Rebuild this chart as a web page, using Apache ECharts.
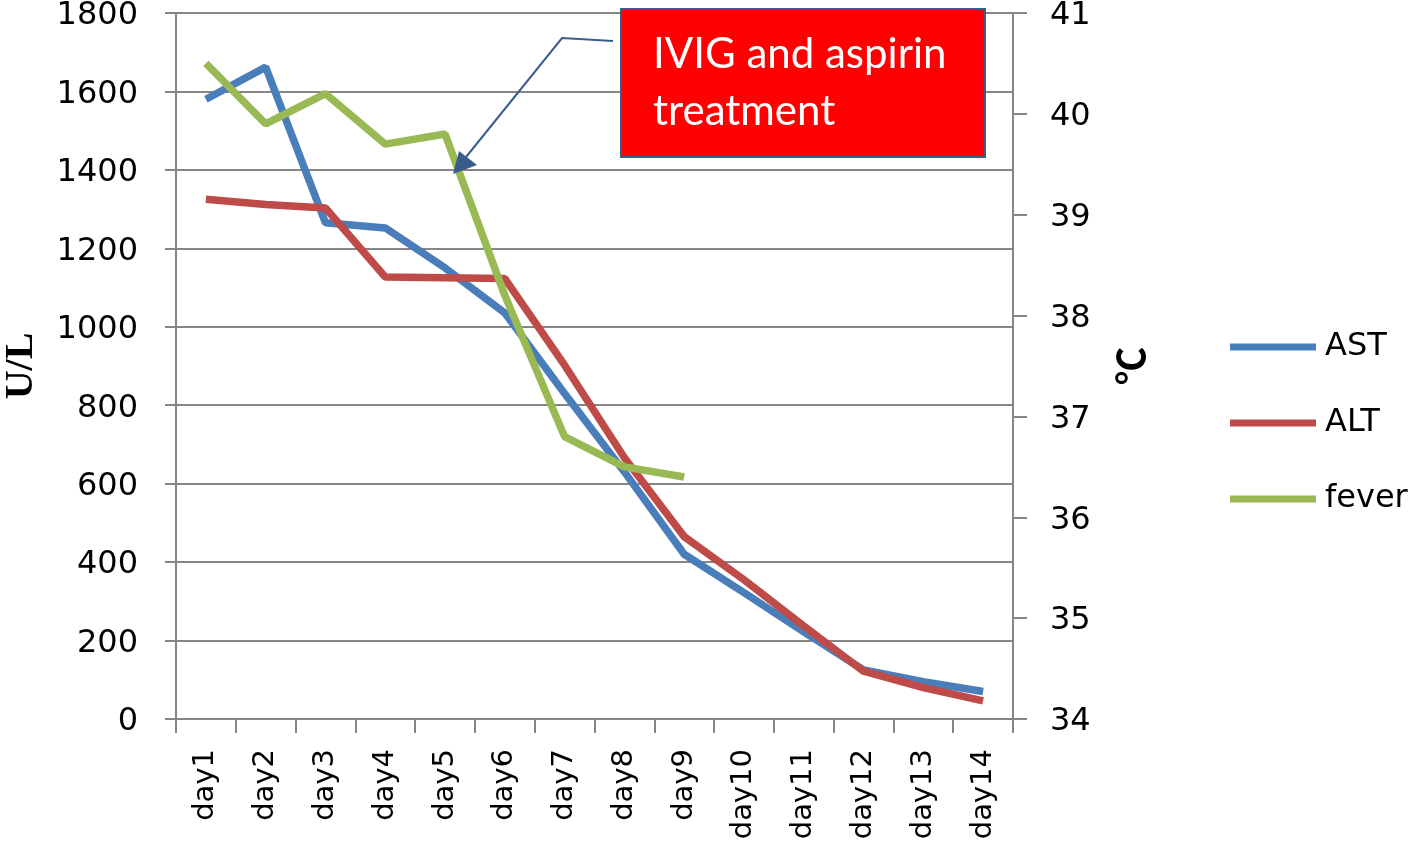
<!DOCTYPE html>
<html>
<head>
<meta charset="utf-8">
<script src="https://cdn.jsdelivr.net/npm/echarts@6/dist/echarts.min.js"></script>
<style>
html,body{margin:0;padding:0;background:#fff;}
#chart{width:1418px;height:846px;}
</style>
</head>
<body>
<div id="chart"></div>
<script>
var categories = ['day1','day2','day3','day4','day5','day6','day7','day8','day9','day10','day11','day12','day13','day14'];
var astValues = [1580, 1662, 1265, 1252, 1150, 1035, 830, 630, 420, 322, 222, 125, 95, 70];
var altValues = [1325, 1312, 1303, 1127, 1125, 1123, 902, 666, 465, 355, 237, 122, 80, 46];
var feverValues = [40.5, 39.9, 40.2, 39.7, 39.8, 38.2, 36.8, 36.5, 36.4, null, null, null, null, null];
var seriesNames = ['AST', 'ALT', 'fever'];
var annotationLines = ['IVIG and aspirin', 'treatment'];

var gray = '#868686';
var font = 'DejaVu Sans';
var tickRich = { t: { fontFamily: font, fontSize: 32, color: '#000', padding: [6, 0, 0, 0] } };
var chart = echarts.init(document.getElementById('chart'));
chart.setOption({
  animation: false,
  backgroundColor: '#fff',
  grid: { left: 176, right: 405, top: 13, bottom: 127, containLabel: false, outerBoundsMode: 'none' },
  legend: {
    orient: 'vertical', left: 1230, top: 327, padding: 0,
    icon: 'rect', itemWidth: 86, itemHeight: 7, itemGap: 36,
    data: seriesNames,
    textStyle: { fontFamily: font, fontSize: 32, lineHeight: 40, color: '#000', padding: [0,0,0,4] }
  },
  xAxis: {
    type: 'category', data: categories, boundaryGap: true,
    axisLine: { lineStyle: { color: gray, width: 2 } },
    axisTick: { show: true, length: 14, interval: 0, lineStyle: { color: gray, width: 2 } },
    axisLabel: { rotate: 90, interval: 0, fontFamily: font, fontSize: 29, color: '#000', margin: 30 },
    splitLine: { show: false }
  },
  yAxis: [
    {
      type: 'value', min: 0, max: 1800, interval: 200, position: 'left',
      axisLine: { show: true, lineStyle: { color: gray, width: 2 } },
      axisTick: { show: true, length: 11, lineStyle: { color: gray, width: 2 } },
      axisLabel: { fontFamily: font, fontSize: 32, color: '#000', margin: 38, rich: tickRich,
        formatter: function (v) { return '{t|' + v + '}'; } },
      splitLine: { show: true, lineStyle: { color: gray, width: 2 } },
      name: 'U/L', nameLocation: 'middle', nameGap: 134, nameRotate: 90,
      nameTextStyle: { fontFamily: 'Liberation Serif', fontWeight: 'bold', fontSize: 40, color: '#000' }
    },
    {
      type: 'value', min: 34, max: 41, interval: 1, position: 'right',
      axisLine: { show: true, lineStyle: { color: gray, width: 2 } },
      axisTick: { show: true, length: 14, lineStyle: { color: gray, width: 2 } },
      axisLabel: { fontFamily: font, fontSize: 32, color: '#000', margin: 37, rich: tickRich,
        formatter: function (v) { return '{t|' + v + '}'; } },
      splitLine: { show: false },
      name: '℃', nameLocation: 'middle', nameGap: 103, nameRotate: 90,
      nameTextStyle: { fontFamily: 'Liberation Serif, Noto Sans CJK SC', fontWeight: 'bold', fontSize: 38, color: '#000' }
    }
  ],
  series: [
    { name: seriesNames[0], type: 'line', yAxisIndex: 0, data: astValues, showSymbol: false, symbol: 'none',
      lineStyle: { color: '#4A7EBB', width: 7.5 }, itemStyle: { color: '#4A7EBB' } },
    { name: seriesNames[1], type: 'line', yAxisIndex: 0, data: altValues, showSymbol: false, symbol: 'none',
      lineStyle: { color: '#BE4B48', width: 7.5 }, itemStyle: { color: '#BE4B48' } },
    { name: seriesNames[2], type: 'line', yAxisIndex: 1, data: feverValues, showSymbol: false, symbol: 'none',
      lineStyle: { color: '#98B954', width: 7.5 }, itemStyle: { color: '#98B954' } }
  ],
  graphic: [
    { type: 'polyline', z: 100, shape: { points: [[613,41],[562,38],[462,162]] },
      style: { stroke: '#385D8A', lineWidth: 2, fill: null } },
    { type: 'polygon', z: 100, shape: { points: [[453,174],[459,151],[477,165]] },
      style: { fill: '#385D8A', stroke: null } },
    { type: 'rect', z: 100, shape: { x: 621, y: 9, width: 364, height: 148 },
      style: { fill: '#FF0000', stroke: '#385D8A', lineWidth: 2 } },
    { type: 'text', z: 101, style: { x: 653, y: 54, text: annotationLines[0], fill: '#fff',
      font: '42px Lato', verticalAlign: 'middle', align: 'left' } },
    { type: 'text', z: 101, style: { x: 653, y: 111, text: annotationLines[1], fill: '#fff',
      font: '42px Lato', verticalAlign: 'middle', align: 'left' } }
  ]
});
</script>
</body>
</html>
